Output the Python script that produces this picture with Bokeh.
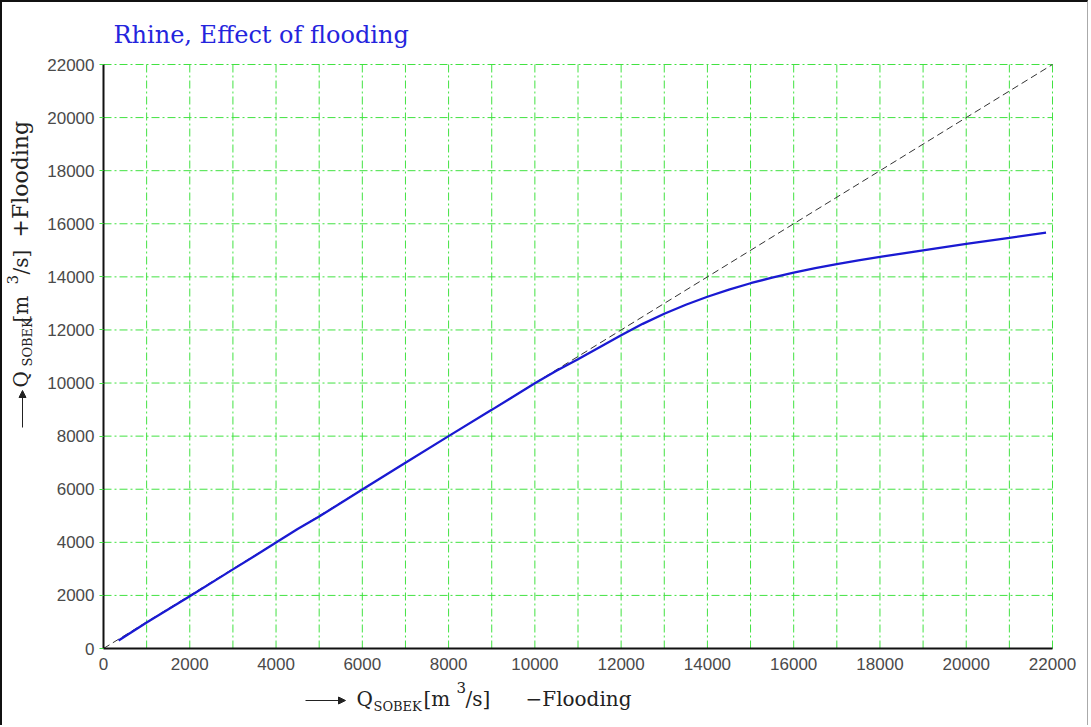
import math

from bokeh.embed import file_html
from bokeh.models import Arrow, FixedTicker, Label, NormalHead, Range1d
from bokeh.plotting import figure
from bokeh.resources import INLINE

# Rhine discharge computed without flooding (x) and with flooding (y), m3/s
q_without = [350, 1000, 2000, 3000, 4000, 4500, 5000, 6000, 7000, 8000, 9000,
             10000, 10500, 11000, 11500, 12000, 12500, 13000, 13500, 14000,
             14500, 15000, 15500, 16000, 16500, 17000, 17500, 18000, 19000,
             20000, 21000, 21850]
q_with = [300, 980, 1970, 2980, 3990, 4500, 4970, 5990, 7000, 8000, 8990,
          9990, 10460, 10900, 11350, 11800, 12230, 12610, 12950, 13250,
          13520, 13760, 13970, 14160, 14330, 14480, 14620, 14750, 15000,
          15240, 15470, 15670]

# one-to-one reference line
diag_x = [0, 22000]
diag_y = [0, 22000]

major_ticks = list(range(0, 22001, 2000))
minor_ticks = list(range(1000, 22000, 2000))

title_text = "Rhine, Effect of flooding"
axis_name = "Q"
axis_sub = "SOBEK"
unit_a = "[m"
unit_sup = "3"
unit_b = "/s]"
x_note = "\u2212Flooding"
y_note = "+Flooding"

XMAX = YMAX = 22000

# page geometry in pixels: canvas sits inside a 2px left/top css border,
# the data box spans columns 103..1052 and rows 64..648
W, H = 1088, 725
OFF = 2
X0PX, X1PX = 103, 1052
Y0PX, Y1PX = 648, 64
SX = XMAX / (X1PX - X0PX)
SY = YMAX / (Y0PX - Y1PX)


def dx(px):
    """page pixel column -> data x"""
    return (px - X0PX) * SX


def dy(py):
    """page pixel row -> data y"""
    return (Y0PX - py) * SY


p = figure(width=W, height=H, output_backend="svg", toolbar_location=None,
           x_range=Range1d(dx(OFF), dx(OFF + W)),
           y_range=Range1d(dy(OFF + H), dy(OFF)),
           min_border=0, min_border_left=0, min_border_right=0,
           min_border_top=0, min_border_bottom=0)
p.styles = {"border-left": "2px solid #111", "border-top": "2px solid #111",
            "border-right": "1px solid #aaa"}
p.outline_line_color = None
p.background_fill_color = "white"
p.border_fill_color = "white"
p.grid.grid_line_color = None

GREEN = "#42e242"
GRID_DASH = "8 3 2 3"

# grid, drawn only over the 0..22000 box
vlines = sorted(major_ticks + minor_ticks)
p.segment(x0=vlines, y0=[0] * len(vlines), x1=vlines, y1=[YMAX] * len(vlines),
          line_color=GREEN, line_width=1, line_dash=GRID_DASH)
p.segment(x0=[0] * len(major_ticks), y0=major_ticks,
          x1=[XMAX] * len(major_ticks), y1=major_ticks,
          line_color=GREEN, line_width=1, line_dash=GRID_DASH)

p.xaxis.ticker = FixedTicker(ticks=major_ticks)
p.yaxis.ticker = FixedTicker(ticks=major_ticks)

for ax in (p.xaxis, p.yaxis):
    ax.fixed_location = 0
    ax.bounds = (0, 22000)
    ax.axis_line_color = "#111"
    ax.axis_line_width = 2
    ax.minor_tick_line_color = None
    ax.major_label_text_font = "Liberation Sans"
    ax.major_label_text_font_size = "17px"
    ax.major_label_text_color = "#4a4a4a"

p.xaxis.major_tick_line_color = None
p.xaxis.major_tick_out = 0
p.xaxis.major_tick_in = 0
p.xaxis.major_label_standoff = 9

p.yaxis.major_tick_line_color = GREEN
p.yaxis.major_tick_out = 4
p.yaxis.major_tick_in = 0
p.yaxis.major_label_standoff = 5

p.line(diag_x, diag_y, line_color="#333", line_width=1, line_dash="7 4")
p.line(q_without, q_with, line_color="#1a1ad2", line_width=2.3)

SERIF = "DejaVu Serif"
TXT = "#222"

p.add_layout(Label(x=dx(113), y=dy(34), text=title_text, text_font=SERIF,
                   text_font_size="24px", text_color="#2424dd",
                   text_align="left", text_baseline="alphabetic"))

# x axis caption
p.add_layout(Arrow(x_start=dx(305), y_start=dy(700), x_end=dx(345), y_end=dy(700),
                   line_color=TXT, line_width=1,
                   end=NormalHead(size=7, fill_color=TXT, line_color=TXT)))
for txt, px, py, size in [(axis_name, 356, 698, "20px"), (axis_sub, 373, 706, "13px"),
                          (unit_a, 423, 698, "20px"), (unit_sup, 456, 687, "15px"),
                          (unit_b, 465, 698, "20px"), (x_note, 525, 698, "20px")]:
    p.add_layout(Label(x=dx(px), y=dy(py), text=txt, text_font=SERIF,
                       text_font_size=size, text_color=TXT,
                       text_align="left", text_baseline="alphabetic"))

# y axis caption, reading upwards
p.add_layout(Arrow(x_start=dx(22), y_start=dy(427), x_end=dx(22), y_end=dy(390),
                   line_color=TXT, line_width=1,
                   end=NormalHead(size=7, fill_color=TXT, line_color=TXT)))
for txt, px, py, size in [(axis_name, 20, 387, "20px"), (axis_sub, 27, 366, "13px"),
                          (unit_a, 20, 322, "20px"), (unit_sup, 12, 284, "15px"),
                          (unit_b, 20, 274, "20px"), (y_note, 20, 237, "22px")]:
    p.add_layout(Label(x=dx(px), y=dy(py), text=txt, text_font=SERIF,
                       text_font_size=size, text_color=TXT, angle=math.pi / 2,
                       text_align="left", text_baseline="alphabetic"))

open("out.html", "w").write(file_html(p, INLINE))
